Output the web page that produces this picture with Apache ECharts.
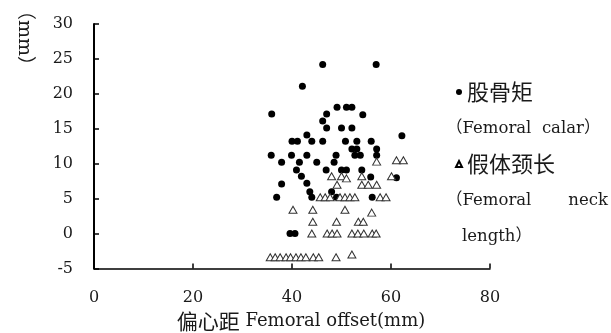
<!DOCTYPE html>
<html>
<head>
<meta charset="utf-8">
<script src="https://cdn.jsdelivr.net/npm/echarts@6/dist/echarts.min.js"></script>
<style>html,body{margin:0;padding:0;background:#fff}#c{width:611px;height:333px}</style>
</head>
<body>
<div id="c"></div>
<script>
// Femoral calar (filled circles): [offset, value]
const femoralCalar = [
  [46.2,24.2],[57.0,24.2],[42.1,21.1],[35.9,17.1],[47.0,17.1],[49.1,18.1],[51.0,18.1],[52.1,18.1],
  [54.3,17.0],[46.2,16.1],[47.0,15.1],[50.0,15.1],[52.1,15.1],[43.0,14.1],[62.2,14.0],[40.0,13.2],
  [41.1,13.2],[44.0,13.2],[46.2,13.2],[50.8,13.2],[53.1,13.2],[56.0,13.2],[52.1,12.1],[53.1,12.1],
  [57.1,12.1],[35.8,11.2],[39.9,11.2],[43.0,11.2],[48.9,11.2],[52.7,11.2],[53.8,11.2],[57.1,11.2],
  [37.9,10.2],[41.5,10.2],[45.0,10.2],[48.5,10.2],[40.9,9.1],[46.9,9.1],[50.0,9.1],[51.0,9.1],
  [54.1,9.1],[41.9,8.2],[55.9,8.1],[61.1,8.0],[37.9,7.1],[43.0,7.2],[43.6,6.0],[48.0,6.0],
  [36.9,5.2],[44.0,5.2],[49.0,5.2],[56.2,5.2],[39.6,0],[40.6,0]
];
// Femoral neck length (hollow triangles): [offset, value]
const neckLength = [
  [57.1,10.3],[61.1,10.5],[62.5,10.5],
  [48.0,8.2],[50.0,8.2],[51.0,7.9],[54.1,8.2],[60.1,8.2],
  [49.1,7.0],[54.1,7.0],[55.4,7.0],[57.1,7.0],
  [45.7,5.2],[46.7,5.2],[47.7,5.2],[49.7,5.2],[50.7,5.2],[51.7,5.2],[52.7,5.2],[57.8,5.2],[59.0,5.2],
  [40.2,3.4],[44.2,3.4],[50.7,3.4],[56.1,3.0],
  [44.2,1.7],[49.0,1.7],[53.4,1.7],[54.4,1.7],
  [44.0,0],[47.1,0],[48.1,0],[49.1,0],[52.1,0],[53.3,0],[54.5,0],[56.2,0],[57.0,0],
  [35.6,-3.4],[36.6,-3.4],[37.6,-3.4],[38.8,-3.4],[39.7,-3.4],[40.8,-3.4],[41.8,-3.4],[42.8,-3.4],
  [44.3,-3.4],[45.4,-3.4],[48.9,-3.4],[52.1,-3.0]
];
const seriesNames = ['股骨矩', '假体颈长'];
const legendSubLines = ['（Femoral  calar）', '（Femoral', 'neck', 'length）'];
const xAxisNameCn = '偏心距';
const xAxisNameEn = 'Femoral offset(mm)';
const yAxisName = '（mm）';
const xRange = {min: 0, max: 80, interval: 20};
const yRange = {min: -5, max: 30, interval: 5};

const LAT = "'DejaVu Serif', 'Noto Sans CJK SC', serif";
const CJK = "'Noto Sans CJK SC', sans-serif";
const TXT = '#1a1a1a';
const chart = echarts.init(document.getElementById('c'), null, {renderer: 'canvas'});
chart.setOption({
  animation: false,
  backgroundColor: '#fff',
  grid: {left: 94, right: 121, top: 24, bottom: 64.5, containLabel: false, outerBoundsMode: 'none'},
  xAxis: {
    type: 'value', min: xRange.min, max: xRange.max, interval: xRange.interval,
    splitLine: {show: false},
    axisLine: {show: true, onZero: false, lineStyle: {color: '#000', width: 1.5}},
    axisTick: {show: true, inside: true, length: 5, lineStyle: {color: '#000', width: 1.5}},
    axisLabel: {fontFamily: LAT, fontSize: 16, color: TXT, margin: 21},
    name: '{c|' + xAxisNameCn + '}{l| ' + xAxisNameEn + '}', nameLocation: 'middle', nameGap: 42,
    nameTextStyle: {
      color: TXT, padding: [0, 0, 0, 18],
      rich: {
        c: {fontFamily: CJK, fontSize: 21, color: TXT},
        l: {fontFamily: LAT, fontSize: 18, color: TXT}
      }
    }
  },
  yAxis: {
    type: 'value', min: yRange.min, max: yRange.max, interval: yRange.interval,
    splitLine: {show: false},
    axisLine: {show: true, onZero: false, lineStyle: {color: '#000', width: 2}},
    axisTick: {show: true, inside: true, length: 5, lineStyle: {color: '#000', width: 1.5}},
    axisLabel: {fontFamily: LAT, fontSize: 16, color: TXT, margin: 21}
  },
  legend: {
    orient: 'vertical', left: 450, top: 76, itemGap: 50, itemWidth: 6, itemHeight: 6,
    textStyle: {fontFamily: CJK, fontSize: 22, color: TXT},
    data: [
      {name: seriesNames[0], icon: 'circle'},
      {name: seriesNames[1], icon: 'triangle', itemStyle: {color: '#fff', borderColor: '#000', borderWidth: 2}}
    ]
  },
  series: [
    {name: seriesNames[0], type: 'scatter', data: femoralCalar, symbol: 'circle', symbolSize: 7,
     itemStyle: {color: '#000', opacity: 1}, z: 2},
    {name: seriesNames[1], type: 'scatter', data: neckLength, symbol: 'triangle', symbolSize: [8, 7],
     itemStyle: {color: '#fff', borderColor: '#333', borderWidth: 1, opacity: 1}, z: 3}
  ],
  graphic: [
    {type: 'text', left: 446, top: 120, style: {text: legendSubLines[0], font: "16.5px " + LAT, fill: TXT}},
    {type: 'text', left: 446, top: 192, style: {text: legendSubLines[1], font: "16.5px " + LAT, fill: TXT}},
    {type: 'text', right: 3, top: 192, style: {text: legendSubLines[2], font: "16.5px " + LAT, fill: TXT}},
    {type: 'text', left: 462, top: 228, style: {text: legendSubLines[3], font: "16.5px " + LAT, fill: TXT}},
    {type: 'text', x: 24, y: 38, rotation: -Math.PI / 2,
     style: {text: yAxisName, font: "19px " + LAT, fill: TXT, align: 'center', verticalAlign: 'middle'}}
  ]
});
</script>
</body>
</html>
